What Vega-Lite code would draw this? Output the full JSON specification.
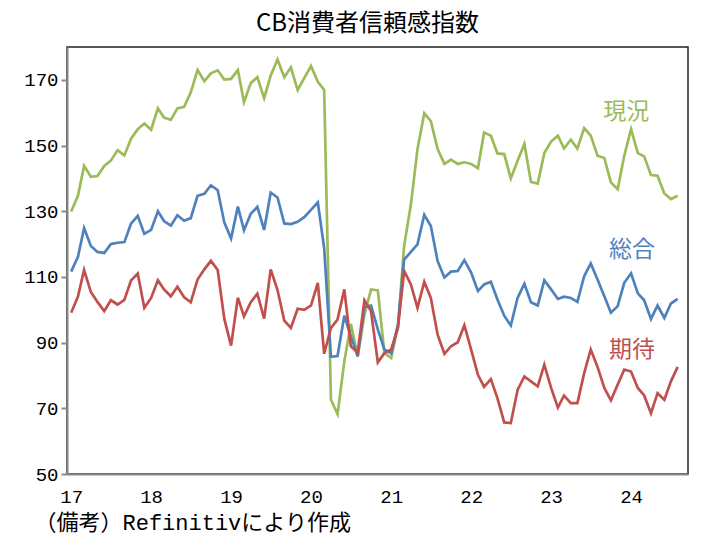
{
  "$schema": "https://vega.github.io/schema/vega-lite/v6.json",
  "width": 621,
  "height": 427,
  "autosize": "none",
  "padding": {"left": 67, "top": 47, "right": 14, "bottom": 74},
  "background": "white",
  "title": {
    "text": "CB消費者信頼感指数",
    "font": "Noto Sans CJK JP",
    "fontSize": 24,
    "fontWeight": "normal",
    "color": "black",
    "offset": 11,
    "dx": -10
  },
  "config": {
    "view": {"stroke": "#222", "strokeWidth": 1.5},
    "axis": {
      "labelFont": "Liberation Mono",
      "labelFontSize": 19,
      "labelColor": "black",
      "domainColor": "#888",
      "domainWidth": 2,
      "tickColor": "#888",
      "tickWidth": 2,
      "grid": false
    }
  },
  "datasets": {
    "cb": [
      {"d": "2017-01-01", "現況": 129.9, "総合": 111.6, "期待": 99.1},
      {"d": "2017-02-01", "現況": 134.7, "総合": 116.1, "期待": 104.0},
      {"d": "2017-03-01", "現況": 143.8, "総合": 124.9, "期待": 112.1},
      {"d": "2017-04-01", "現況": 140.5, "総合": 119.4, "期待": 105.4},
      {"d": "2017-05-01", "現況": 140.7, "総合": 117.6, "期待": 102.4},
      {"d": "2017-06-01", "現況": 143.8, "総合": 117.3, "期待": 99.6},
      {"d": "2017-07-01", "現況": 145.4, "総合": 120.0, "期待": 102.9},
      {"d": "2017-08-01", "現況": 148.6, "総合": 120.4, "期待": 101.6},
      {"d": "2017-09-01", "現況": 147.0, "総合": 120.6, "期待": 103.0},
      {"d": "2017-10-01", "現況": 152.0, "総合": 126.2, "期待": 108.9},
      {"d": "2017-11-01", "現況": 155.0, "総合": 128.6, "期待": 111.0},
      {"d": "2017-12-01", "現況": 156.7, "総合": 123.1, "期待": 100.6},
      {"d": "2018-01-01", "現況": 154.8, "総合": 124.3, "期待": 103.6},
      {"d": "2018-02-01", "現況": 161.3, "総合": 130.0, "期待": 109.0},
      {"d": "2018-03-01", "現況": 158.5, "総合": 127.0, "期待": 106.2},
      {"d": "2018-04-01", "現況": 157.8, "総合": 125.6, "期待": 104.1},
      {"d": "2018-05-01", "現況": 161.3, "総合": 128.8, "期待": 107.0},
      {"d": "2018-06-01", "現況": 161.8, "総合": 127.1, "期待": 103.8},
      {"d": "2018-07-01", "現況": 166.2, "総合": 127.9, "期待": 102.3},
      {"d": "2018-08-01", "現況": 173.0, "総合": 134.7, "期待": 109.2},
      {"d": "2018-09-01", "現況": 169.6, "総合": 135.3, "期待": 112.3},
      {"d": "2018-10-01", "現況": 172.0, "総合": 137.9, "期待": 114.9},
      {"d": "2018-11-01", "現況": 172.9, "総合": 136.4, "期待": 112.1},
      {"d": "2018-12-01", "現況": 170.1, "総合": 126.6, "期待": 97.3},
      {"d": "2019-01-01", "現況": 170.3, "総合": 121.7, "期待": 89.1},
      {"d": "2019-02-01", "現況": 173.0, "総合": 131.4, "期待": 103.7},
      {"d": "2019-03-01", "現況": 163.2, "総合": 124.2, "期待": 98.0},
      {"d": "2019-04-01", "現況": 169.0, "総合": 129.2, "期待": 102.3},
      {"d": "2019-05-01", "現況": 170.8, "総合": 131.3, "期待": 104.9},
      {"d": "2019-06-01", "現況": 164.4, "総合": 124.3, "期待": 97.3},
      {"d": "2019-07-01", "現況": 171.3, "総合": 135.7, "期待": 112.3},
      {"d": "2019-08-01", "現況": 176.2, "総合": 134.2, "期待": 106.0},
      {"d": "2019-09-01", "現況": 170.8, "総合": 126.3, "期待": 96.7},
      {"d": "2019-10-01", "現況": 173.8, "総合": 126.1, "期待": 94.5},
      {"d": "2019-11-01", "現況": 166.9, "総合": 126.8, "期待": 100.3},
      {"d": "2019-12-01", "現況": 170.5, "総合": 128.2, "期待": 100.0},
      {"d": "2020-01-01", "現況": 174.2, "総合": 130.4, "期待": 101.3},
      {"d": "2020-02-01", "現況": 169.4, "総合": 132.7, "期待": 108.2},
      {"d": "2020-03-01", "現況": 166.9, "総合": 118.8, "期待": 86.6},
      {"d": "2020-04-01", "現況": 72.6, "総合": 85.7, "期待": 94.5},
      {"d": "2020-05-01", "現況": 68.2, "総合": 85.9, "期待": 97.0},
      {"d": "2020-06-01", "現況": 84.3, "総合": 98.2, "期待": 106.2},
      {"d": "2020-07-01", "現況": 95.7, "総合": 91.9, "期待": 88.9},
      {"d": "2020-08-01", "現況": 85.8, "総合": 85.8, "期待": 87.0},
      {"d": "2020-09-01", "現況": 98.5, "総合": 100.9, "期待": 102.9},
      {"d": "2020-10-01", "現況": 106.2, "総合": 101.3, "期待": 99.6},
      {"d": "2020-11-01", "現況": 105.9, "総合": 94.0, "期待": 84.0},
      {"d": "2020-12-01", "現況": 86.8, "総合": 87.9, "期待": 86.8},
      {"d": "2021-01-01", "現況": 85.3, "総合": 86.8, "期待": 87.9},
      {"d": "2021-02-01", "現況": 95.0, "総合": 95.5, "期待": 94.5},
      {"d": "2021-03-01", "現況": 119.4, "総合": 115.3, "期待": 111.8},
      {"d": "2021-04-01", "現況": 132.1, "総合": 117.6, "期待": 107.7},
      {"d": "2021-05-01", "現況": 148.9, "総合": 119.9, "期待": 100.6},
      {"d": "2021-06-01", "現況": 159.8, "総合": 128.9, "期待": 108.5},
      {"d": "2021-07-01", "現況": 157.4, "総合": 125.5, "期待": 103.6},
      {"d": "2021-08-01", "現況": 148.9, "総合": 114.8, "期待": 92.4},
      {"d": "2021-09-01", "現況": 144.4, "総合": 109.8, "期待": 86.6},
      {"d": "2021-10-01", "現況": 145.7, "総合": 111.6, "期待": 88.9},
      {"d": "2021-11-01", "現況": 144.4, "総合": 111.8, "期待": 90.1},
      {"d": "2021-12-01", "現況": 144.9, "総合": 115.1, "期待": 95.3},
      {"d": "2022-01-01", "現況": 144.4, "総合": 111.3, "期待": 87.9},
      {"d": "2022-02-01", "現況": 143.1, "総合": 105.7, "期待": 80.2},
      {"d": "2022-03-01", "現況": 154.0, "総合": 107.7, "期待": 76.5},
      {"d": "2022-04-01", "現況": 153.0, "総合": 108.5, "期待": 78.9},
      {"d": "2022-05-01", "現況": 147.6, "総合": 103.1, "期待": 73.1},
      {"d": "2022-06-01", "現況": 147.4, "総合": 98.2, "期待": 65.7},
      {"d": "2022-07-01", "現況": 140.0, "総合": 95.2, "期待": 65.5},
      {"d": "2022-08-01", "現況": 145.4, "総合": 103.6, "期待": 75.6},
      {"d": "2022-09-01", "現況": 150.5, "総合": 107.9, "期待": 79.7},
      {"d": "2022-10-01", "現況": 138.9, "総合": 102.3, "期待": 78.2},
      {"d": "2022-11-01", "現況": 138.4, "総合": 101.3, "期待": 76.7},
      {"d": "2022-12-01", "現況": 147.7, "総合": 109.0, "期待": 83.3},
      {"d": "2023-01-01", "現況": 151.2, "総合": 106.2, "期待": 76.2},
      {"d": "2023-02-01", "現況": 153.0, "総合": 103.3, "期待": 70.2},
      {"d": "2023-03-01", "現況": 149.1, "総合": 104.0, "期待": 73.9},
      {"d": "2023-04-01", "現況": 151.8, "総合": 103.6, "期待": 71.6},
      {"d": "2023-05-01", "現況": 149.1, "総合": 102.4, "期待": 71.6},
      {"d": "2023-06-01", "現況": 155.3, "総合": 110.2, "期待": 80.7},
      {"d": "2023-07-01", "現況": 153.0, "総合": 114.1, "期待": 87.9},
      {"d": "2023-08-01", "現況": 146.9, "総合": 109.2, "期待": 82.6},
      {"d": "2023-09-01", "現況": 146.2, "総合": 104.1, "期待": 76.2},
      {"d": "2023-10-01", "現況": 138.8, "総合": 99.1, "期待": 72.4},
      {"d": "2023-11-01", "現況": 136.7, "総合": 101.1, "期待": 77.2},
      {"d": "2023-12-01", "現況": 146.9, "総合": 108.2, "期待": 81.8},
      {"d": "2024-01-01", "現況": 155.0, "総合": 111.1, "期待": 81.2},
      {"d": "2024-02-01", "現況": 147.7, "総合": 105.0, "期待": 76.2},
      {"d": "2024-03-01", "現況": 146.7, "総合": 102.9, "期待": 73.9},
      {"d": "2024-04-01", "現況": 141.0, "総合": 97.2, "期待": 68.5},
      {"d": "2024-05-01", "現況": 140.8, "総合": 101.3, "期待": 74.6},
      {"d": "2024-06-01", "現況": 135.4, "総合": 97.5, "期待": 72.6},
      {"d": "2024-07-01", "現況": 133.7, "総合": 101.9, "期待": 78.2},
      {"d": "2024-08-01", "現況": 134.7, "総合": 103.3, "期待": 82.6}
    ],
    "labels": [
      {"d": "2023-12-10", "v": 160.2, "s": "現況"},
      {"d": "2024-01-05", "v": 118.1, "s": "総合"},
      {"d": "2024-01-05", "v": 87.9, "s": "期待"}
    ]
  },
  "encoding": {
    "x": {
      "field": "d",
      "type": "temporal",
      "scale": {
        "type": "utc",
        "domain": [
          {"year": 2016, "month": 12, "date": 13, "utc": true},
          {"year": 2024, "month": 9, "date": 17, "utc": true}
        ]
      },
      "axis": {
        "format": "%y",
        "values": [
          {"year": 2017, "month": 1, "date": 1, "utc": true},
          {"year": 2018, "month": 1, "date": 1, "utc": true},
          {"year": 2019, "month": 1, "date": 1, "utc": true},
          {"year": 2020, "month": 1, "date": 1, "utc": true},
          {"year": 2021, "month": 1, "date": 1, "utc": true},
          {"year": 2022, "month": 1, "date": 1, "utc": true},
          {"year": 2023, "month": 1, "date": 1, "utc": true},
          {"year": 2024, "month": 1, "date": 1, "utc": true}
        ],
        "ticks": false,
        "labelPadding": 13,
        "title": "（備考）Refinitivにより作成",
        "titleFont": "Liberation Mono, Noto Sans CJK JP",
        "titleFontSize": 22,
        "titleFontWeight": "normal",
        "titleColor": "black",
        "titleAnchor": "start",
        "titleAlign": "left",
        "titleBaseline": "middle",
        "titleX": -33,
        "titleY": 48
      }
    },
    "y": {
      "field": "v",
      "type": "quantitative",
      "scale": {"domain": [50, 180], "nice": false},
      "axis": {
        "values": [50, 70, 90, 110, 130, 150, 170],
        "tickSize": 6,
        "labelPadding": 3,
        "title": null
      }
    },
    "color": {
      "field": "s",
      "type": "nominal",
      "scale": {
        "domain": ["現況", "総合", "期待"],
        "range": ["#9BBB59", "#4F81BD", "#C0504D"]
      },
      "legend": null
    }
  },
  "layer": [
    {
      "data": {"name": "cb"},
      "transform": [{"fold": ["現況", "総合", "期待"], "as": ["s", "v"]}],
      "mark": {"type": "line", "strokeWidth": 2.7}
    },
    {
      "data": {"name": "labels"},
      "mark": {
        "type": "text",
        "font": "Noto Sans CJK JP",
        "fontSize": 23,
        "align": "center",
        "baseline": "middle"
      },
      "encoding": {"text": {"field": "s"}}
    }
  ]
}
